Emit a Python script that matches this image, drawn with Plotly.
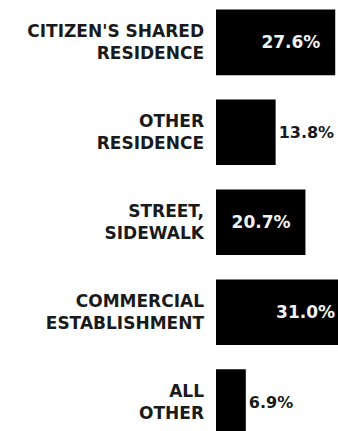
import plotly.graph_objects as go

# Where the incidents took place (share of all cases, %)
categories = [
    "CITIZEN'S SHARED<br>RESIDENCE",
    "OTHER<br>RESIDENCE",
    "STREET,<br>SIDEWALK",
    "COMMERCIAL<br>ESTABLISHMENT",
    "ALL<br>OTHER",
]
shares = [27.6, 13.8, 20.7, 31.0, 6.9]

# Wide bars carry their label inside, short ones just past the end
INSIDE_MIN = 15
positions = ["inside" if v >= INSIDE_MIN else "outside" for v in shares]
labels = [
    f"{v:.1f}%\u00a0\u00a0" if p == "inside" else f"{v:.1f}%"
    for v, p in zip(shares, positions)
]

FONT = "DejaVu Sans"

fig = go.Figure(
    go.Bar(
        x=shares,
        y=categories,
        orientation="h",
        marker=dict(color="#000000", line=dict(width=0)),
        width=0.73,
        text=labels,
        textposition=positions,
        insidetextanchor="end",
        insidetextfont=dict(family=FONT, size=17, color="#f2f2f2", weight="bold"),
        outsidetextfont=dict(family=FONT, size=16, color="#1a1a1a", weight="bold"),
        constraintext="none",
        cliponaxis=True,
        hoverinfo="skip",
    )
)

fig.update_layout(
    width=338,
    height=431,
    margin=dict(l=216, r=0, t=0, b=0),
    paper_bgcolor="#ffffff",
    plot_bgcolor="#ffffff",
    showlegend=False,
    xaxis=dict(
        range=[0, 28.24],
        visible=False,
        fixedrange=True,
    ),
    yaxis=dict(
        type="category",
        categoryorder="array",
        categoryarray=categories,
        range=[4.32, -0.47],
        showgrid=False,
        zeroline=False,
        showline=False,
        ticks="",
        ticklabelstandoff=11,
        tickfont=dict(family=FONT, size=17, color="#1a1a1a", weight="bold"),
        fixedrange=True,
    ),
)

fig.write_html("out.html")
